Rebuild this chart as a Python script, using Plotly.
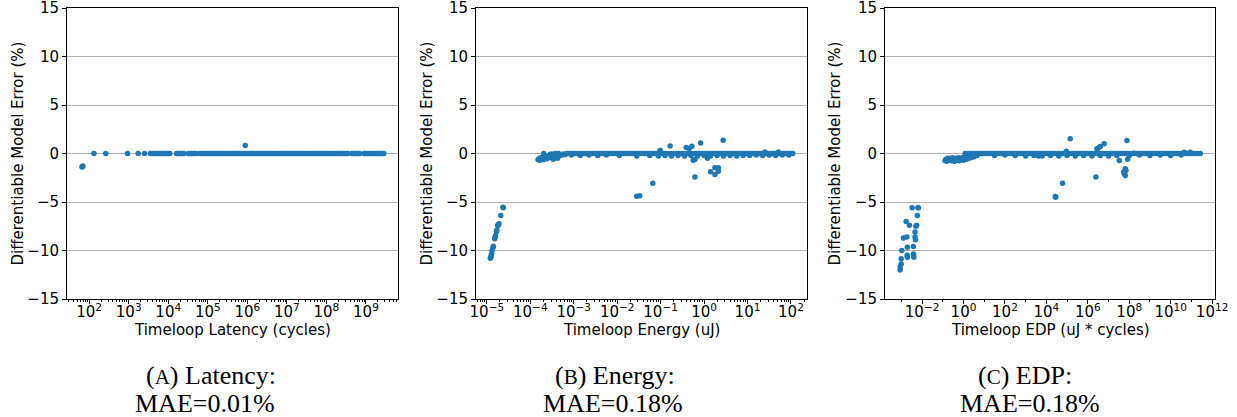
import numpy as np
import plotly.graph_objects as go

BLUE = "#1f77b4"

# ======================= Panel A: latency =======================
# isolated points (log10 of latency, error %)
lat_pts_log = [1.82, 1.83, 1.84, 2.12, 2.42, 2.97, 3.24, 3.40, 5.95]
lat_pts_err = [-1.38, -1.34, -1.30, 0, 0, 0, 0, 0, 0.82]
# the dense run of points lying on 0 % (log10 of latency)
lat_band_log = [3.55, 3.59, 3.63, 3.67, 3.71,
                3.76, 3.80, 3.84, 3.88, 3.92, 3.96, 4.00, 4.04,
                4.21, 4.25, 4.29, 4.33, 4.37, 4.40,
                4.51, 4.55, 4.59, 4.63, 4.67, 4.71,
                4.80, 4.84, 4.88, 4.93, 4.97, 5.01, 5.05, 5.10, 5.15, 5.18, 5.22, 5.27,
                5.31, 5.36, 5.40, 5.44, 5.48, 5.53, 5.57, 5.62, 5.66, 5.70, 5.74, 5.79,
                5.83, 5.88, 5.92, 5.96, 6.00, 6.05, 6.09, 6.13, 6.17, 6.22, 6.26, 6.31,
                6.35, 6.39, 6.43, 6.48, 6.52, 6.57, 6.61, 6.65, 6.70, 6.74, 6.78, 6.83,
                6.87, 6.91, 6.95, 7.00, 7.04, 7.09, 7.13, 7.17, 7.21, 7.26, 7.30, 7.35,
                7.39, 7.43, 7.47, 7.52, 7.56, 7.61, 7.65, 7.69, 7.73, 7.78, 7.82, 7.87,
                7.91, 7.95, 7.99, 8.04, 8.08, 8.13, 8.17, 8.22, 8.26,
                8.30, 8.34, 8.38, 8.42, 8.46, 8.50, 8.54,
                8.64, 8.68, 8.72, 8.76, 8.80, 8.84,
                8.95, 8.99, 9.03, 9.07, 9.11, 9.15, 9.19,
                9.25, 9.29, 9.33, 9.37, 9.41, 9.45]
lat_band_err = [0.0] * len(lat_band_log)

# ======================= Panel B: energy =======================
en_pts_log = [-4.62, -4.63, -4.68, -4.72, -4.74, -4.75, -4.77, -4.78, -4.80, -4.81,
              -4.82, -4.85, -4.86, -4.88, -4.89, -4.90, -4.91, -4.92,
              -3.82, -3.80, -3.78, -3.76, -3.74, -3.72, -3.70, -3.69, -3.67, -3.65,
              -3.63, -3.61, -3.59, -3.57, -3.55, -3.53, -3.51, -3.49, -3.47, -3.45,
              -3.43, -3.41, -3.39, -3.37, -3.35, -3.33, -3.30, -3.27, -3.24, -3.20,
              -1.55, -1.48, -1.18, -1.01, -0.78, -0.41, -0.34, -0.28, -0.08, -0.25,
              -0.21, -0.21, 0.08, 0.15, 0.25, 0.25, 0.33, 0.33, 0.44, 1.40, 1.71]
en_pts_err = [-5.6, -5.55, -6.4, -7.25, -7.35, -7.45, -7.9, -8.05, -8.45, -8.6,
              -8.8, -9.55, -9.7, -10.0, -10.35, -10.55, -10.7, -10.8,
              -0.65, -0.55, -0.7, -0.45, -0.6, -0.35, -0.65, 0.0, -0.5, -0.3,
              -0.55, -0.4, -0.25, -0.45, -0.1, -0.35, -0.05, -0.3, -0.6, -0.2,
              0.0, -0.25, -0.15, -0.5, 0.0, -0.2, -0.1, -0.15, -0.05, -0.1,
              -4.4, -4.35, -3.06, 0.34, 0.78, 0.62, 0.52, 0.74, 1.07, -0.69,
              -0.62, -2.43, -0.5, -1.87, -1.48, -2.17, -1.48, -1.82, 1.36, 0.16, 0.16]
en_band_log = [-3.16, -3.10, -3.04, -2.98, -2.92, -2.86, -2.80, -2.74, -2.68, -2.62,
               -2.56, -2.50, -2.44, -2.38, -2.32, -2.26, -2.20, -2.14, -2.08, -2.02,
               -1.96, -1.90, -1.84, -1.78, -1.72, -1.66, -1.60, -1.54, -1.48, -1.42,
               -1.36, -1.30, -1.24, -1.18, -1.12, -1.06, -1.00, -0.94, -0.88, -0.82,
               -0.76, -0.70, -0.64, -0.58, -0.52, -0.46, -0.40, -0.34, -0.28, -0.22,
               -0.16, -0.10, -0.04, 0.02, 0.08, 0.14, 0.20, 0.26, 0.32, 0.38,
               0.44, 0.50, 0.56, 0.62, 0.68, 0.74, 0.80, 0.86, 0.92, 0.98,
               1.04, 1.10, 1.16, 1.22, 1.28, 1.34, 1.40, 1.46, 1.52, 1.58,
               1.64, 1.70, 1.76, 1.82, 1.88, 1.94, 2.00, 2.04]
en_band_err = [0.0] * len(en_band_log)
# faint strip just under the band
en_sub_log = [-3.05, -2.85, -2.65, -2.45, -2.25, -1.95, -1.55, -1.25, -1.05, -0.90,
              -0.75, -0.60, -0.45, -0.30, -0.15, 0.00, 0.15, 0.30, 0.45, 0.60,
              0.75, 0.90, 1.05, 1.20, 1.35, 1.50, 1.65, 1.80, 1.95]
en_sub_err = [-0.15, -0.2, -0.15, -0.2, -0.15, -0.2, -0.25, -0.2, -0.25, -0.2,
              -0.25, -0.2, -0.25, -0.2, -0.25, -0.2, -0.25, -0.2, -0.25, -0.2,
              -0.25, -0.2, -0.2, -0.15, -0.2, -0.15, -0.2, -0.15, -0.15]

# ======================= Panel C: EDP =======================
edp_pts_log = [-3.06, -3.06, -3.01, -3.01, -2.98, -2.90, -2.77, -2.74, -2.71, -2.71,
               -2.72, -2.61, -2.48, -2.42, -2.42, -2.40, -2.41, -2.34, -2.34, -2.32,
               -2.30, -2.26, -2.23, -2.18, -2.20,
               -0.89, -0.85, -0.80, -0.75, -0.70, -0.65, -0.60, -0.55, -0.50, -0.45,
               -0.40, -0.35, -0.30, -0.25, -0.20, -0.15, -0.10, -0.05, 0.00, 0.05,
               0.10, 0.15, 0.20, 0.25, 0.30, 0.35, 0.40, 0.50, 0.56, 0.65,
               3.62, 4.43, 4.45, 4.78, 4.96, 5.15, 6.39, 6.44, 6.52, 6.60,
               6.79, 7.52, 7.73, 7.81, 7.84, 7.77, 7.81, 7.89, 7.92, 8.24,
               10.66, 10.95, 11.43]
edp_pts_err = [-12.0, -11.7, -11.4, -10.86, -10.0, -8.7, -7.0, -8.6, -9.66, -10.7,
               -10.5, -7.4, -5.6, -9.6, -10.35, -10.7, -10.5, -8.6, -8.1, -8.9,
               -7.5, -7.4, -6.4, -5.6, -5.6,
               -0.75, -0.6, -0.8, -0.5, -0.7, -0.55, -0.75, -0.45, -0.65, -0.8,
               -0.5, -0.7, -0.6, -0.45, -0.75, -0.55, -0.65, -0.4, -0.7, -0.5,
               -0.35, -0.6, -0.3, -0.5, -0.25, -0.45, -0.2, -0.35, -0.15, -0.2,
               -0.27, -4.43, -4.5, -3.06, 0.24, 1.51, -2.43, 0.48, 0.59, 0.72,
               1.0, -0.72, -1.92, -1.58, -1.75, -2.1, -2.27, 1.34, -0.6, 0.03,
               0.13, 0.13, 0.0]
edp_band_log = [0.08, 0.20, 0.32, 0.44, 0.56, 0.68, 0.80, 0.92, 1.04, 1.16, 1.28, 1.40,
                1.52, 1.64, 1.76, 1.88, 2.00, 2.12, 2.24, 2.36, 2.48, 2.60, 2.72, 2.84,
                2.96, 3.08, 3.20, 3.32, 3.44, 3.56, 3.68, 3.80, 3.92, 4.04, 4.16, 4.28,
                4.40, 4.52, 4.64, 4.76, 4.88, 5.00, 5.12, 5.24, 5.36, 5.48, 5.60, 5.72,
                5.84, 5.96, 6.08, 6.20, 6.32, 6.44, 6.56, 6.68, 6.80, 6.92, 7.04, 7.16,
                7.28, 7.40, 7.52, 7.64, 7.76, 7.88, 8.00, 8.12, 8.24, 8.36, 8.48, 8.60,
                8.72, 8.84, 8.96, 9.08, 9.20, 9.32, 9.44, 9.56, 9.68, 9.80, 9.92, 10.04,
                10.16, 10.28, 10.40, 10.52, 10.64, 10.76, 10.88, 11.00, 11.12, 11.27]
edp_band_err = [0.0] * len(edp_band_log)
edp_sub_log = [1.5, 2.0, 2.5, 3.0, 3.4, 3.8, 4.2, 4.6, 5.0, 5.4, 5.8, 6.2, 6.6, 7.0,
               7.4, 8.0, 8.5, 9.0, 9.5, 10.0, 10.5]
edp_sub_err = [-0.2, -0.15, -0.2, -0.25, -0.2, -0.25, -0.2, -0.25, -0.2, -0.25, -0.2,
               -0.25, -0.2, -0.25, -0.2, -0.2, -0.15, -0.2, -0.15, -0.2, -0.15]

# ======================= texts / ticks =======================
x_titles = ["Timeloop Latency (cycles)", "Timeloop Energy (uJ)", "Timeloop EDP (uJ * cycles)"]
y_title = "Differentiable Model Error (%)"
captions_1 = ["(<span style='font-size:21px'>A</span>) Latency:",
              "(<span style='font-size:21px'>B</span>) Energy:",
              "(<span style='font-size:21px'>C</span>) EDP:"]
captions_2 = ["MAE=0.01%", "MAE=0.18%", "MAE=0.18%"]
lat_tick_exp = [2, 3, 4, 5, 6, 7, 8, 9]
en_tick_exp = [-5, -4, -3, -2, -1, 0, 1, 2]
edp_tick_exp = [-2, 0, 2, 4, 6, 8, 10, 12]
edp_minor_exp = [-3, -1, 1, 3, 5, 7, 9, 11]
y_ticks = [-15, -10, -5, 0, 5, 10, 15]


def sup(e):
    s = str(e).replace("-", "\u2212")
    return "10<sup>" + s + "</sup>"


W, H = 1237, 417
FONT = "DejaVu Sans"
FS = 15

fig = go.Figure()
panels = [
    [(lat_band_log, lat_band_err), (lat_pts_log, lat_pts_err)],
    [(en_sub_log, en_sub_err), (en_band_log, en_band_err), (en_pts_log, en_pts_err)],
    [(edp_sub_log, edp_sub_err), (edp_band_log, edp_band_err), (edp_pts_log, edp_pts_err)],
]
for i, groups in enumerate(panels):
    sfx = "" if i == 0 else str(i + 1)
    for xl, yv in groups:
        fig.add_trace(go.Scatter(
            x=np.power(10.0, np.array(xl)), y=yv, mode="markers",
            marker=dict(color=BLUE, size=5.5, line=dict(width=0)),
            xaxis="x" + sfx, yaxis="y" + sfx, showlegend=False, hoverinfo="skip"))

x_px = [(67, 398), (476, 807), (885, 1215)]
y_top, y_bot = 8, 299
x_ranges = [[1.44, 9.81], [-5.25, 2.37], [-3.79, 12.14]]
tick_exps = [lat_tick_exp, en_tick_exp, edp_tick_exp]
ytitle_px = [18, 427, 835]
caption1_px = [211, 615, 1025]
caption2_px = [205, 613, 1030]

layout = dict(width=W, height=H, margin=dict(l=0, r=0, t=0, b=0, autoexpand=False),
              paper_bgcolor="white", plot_bgcolor="white",
              font=dict(family=FONT, size=FS, color="black"))
annotations = []
for i in range(3):
    sfx = "" if i == 0 else str(i + 1)
    x0, x1 = x_px[i]
    minor = dict(ticks="outside", ticklen=2, tickcolor="black", tickwidth=0.8)
    if i < 2:
        minor["dtick"] = "D1"
    else:
        minor["tickmode"] = "array"
        minor["tickvals"] = [10.0 ** e for e in edp_minor_exp]
    layout["xaxis" + sfx] = dict(
        type="log", domain=[x0 / W, x1 / W], range=x_ranges[i], anchor="y" + sfx,
        tickmode="array", tickvals=[10.0 ** e for e in tick_exps[i]],
        ticktext=[sup(e) for e in tick_exps[i]],
        ticks="outside", ticklen=4, tickcolor="black", tickwidth=1,
        showline=True, mirror=True, linecolor="black", linewidth=1,
        showgrid=False, zeroline=False, minor=minor, automargin=False,
        ticklabelstandoff=-5, ticklabeloverflow="allow",
        tickfont=dict(family=FONT, size=FS, color="black"))
    layout["yaxis" + sfx] = dict(
        domain=[1 - y_bot / H, 1 - y_top / H], range=[-15, 15], anchor="x" + sfx,
        tickmode="array", tickvals=y_ticks, automargin=False, ticklabeloverflow="allow",
        ticks="outside", ticklen=4, tickcolor="black", tickwidth=1,
        showline=True, mirror=True, linecolor="black", linewidth=1,
        showgrid=True, gridcolor="#b0b0b0", gridwidth=1, zeroline=False,
        tickfont=dict(family=FONT, size=FS, color="black"))
    annotations.append(dict(text=x_titles[i], x=(x0 + x1) / 2 / W, y=1 - 330 / H,
                            xref="paper", yref="paper", showarrow=False,
                            xanchor="center", yanchor="middle",
                            font=dict(family=FONT, size=FS, color="black")))
    annotations.append(dict(text=y_title, x=ytitle_px[i] / W, y=1 - 153.5 / H,
                            xref="paper", yref="paper", showarrow=False, textangle=-90,
                            xanchor="center", yanchor="middle",
                            font=dict(family=FONT, size=FS, color="black")))
    annotations.append(dict(text=captions_1[i], x=caption1_px[i] / W, y=1 - 375 / H,
                            xref="paper", yref="paper", showarrow=False,
                            xanchor="center", yanchor="middle",
                            font=dict(family="Liberation Serif", size=26, color="black")))
    annotations.append(dict(text=captions_2[i], x=caption2_px[i] / W, y=1 - 403 / H,
                            xref="paper", yref="paper", showarrow=False,
                            xanchor="center", yanchor="middle",
                            font=dict(family="Liberation Serif", size=26, color="black")))
layout["annotations"] = annotations
fig.update_layout(**layout)
fig.write_html("out.html", config={"displayModeBar": False},
               post_script="document.body.style.margin='0';document.body.style.overflow='hidden';")
